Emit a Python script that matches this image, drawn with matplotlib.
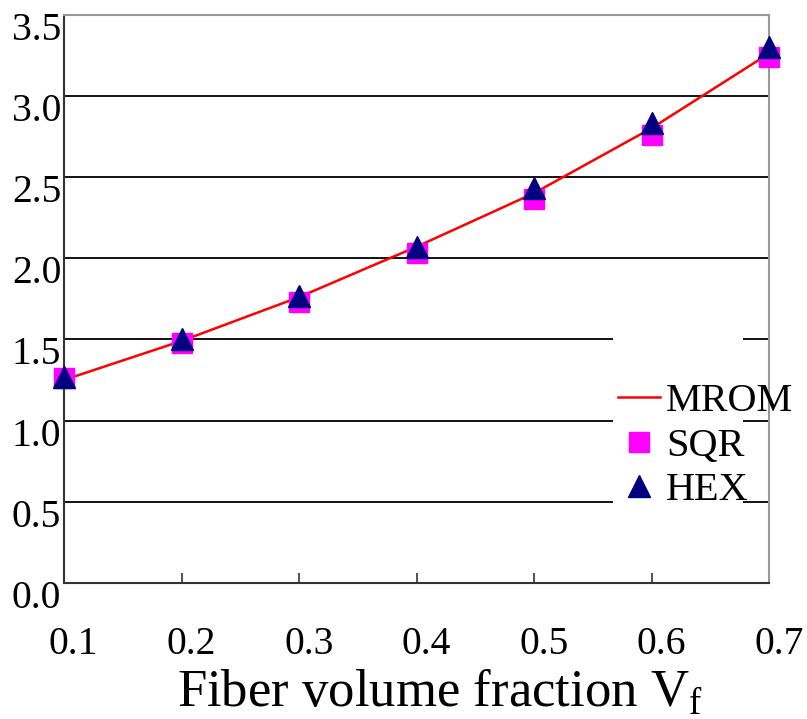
import numpy as np
import matplotlib
matplotlib.use("Agg")
import matplotlib.pyplot as plt
import matplotlib.transforms as mtransforms
from matplotlib.patches import Rectangle

plt.rcParams['font.family'] = ['Liberation Serif', 'DejaVu Serif']
plt.rcParams['mathtext.fontset'] = 'custom'
plt.rcParams['mathtext.rm'] = 'Liberation Serif'

# data
vf = [0.1, 0.2, 0.3, 0.4, 0.5, 0.6, 0.7]
mrom = [1.25, 1.49, 1.76, 2.07, 2.40, 2.80, 3.26]
sqr = [1.26, 1.48, 1.73, 2.03, 2.365, 2.76, 3.24]
hex_ = [1.27, 1.50, 1.77, 2.07, 2.43, 2.83, 3.30]

xticks = [0.1, 0.2, 0.3, 0.4, 0.5, 0.6, 0.7]
yticks = [0.0, 0.5, 1.0, 1.5, 2.0, 2.5, 3.0, 3.5]

W, H = 807, 719
fig = plt.figure(figsize=(W / 100, H / 100), dpi=100)
ax = fig.add_axes([64 / W, 1 - 583 / H, 705 / W, 568.5 / H])

ax.set_xlim(0.1, 0.7)
ax.set_ylim(0.0, 3.5)

for y in yticks[1:-1]:
    ax.axhline(y, color='black', lw=1.3, zorder=1)

# white patch behind the legend hides the gridlines
ax.add_patch(Rectangle((0.779, 0.12), 0.184, 0.335, transform=ax.transAxes,
                       facecolor='white', edgecolor='none', zorder=1.5))

ax.plot(vf, mrom, color='red', lw=1.8, zorder=3, clip_on=False, label='MROM')
ax.plot(vf, sqr, ls='none', marker='s', ms=14.5, color='#ff00ff',
        mec='#ff00ff', zorder=4, clip_on=False, label='SQR')
ax.plot(vf, hex_, ls='none', marker='^', ms=15.5, color='#000080',
        mec='#000080', zorder=5, clip_on=False, label='HEX')

ax.set_xticks(xticks)
ax.set_xticklabels(['%.1f' % t for t in xticks])
ax.set_yticks(yticks)
ax.set_yticklabels(['%.1f' % t for t in yticks])
ax.tick_params(axis='x', direction='in', length=7, width=1.2, color='#333333',
               labelsize=28.5, pad=31)
ax.tick_params(axis='y', length=0, labelsize=28.5, pad=2)

for lab in ax.get_xticklabels():
    lab.set_transform(lab.get_transform() + mtransforms.ScaledTranslation(
        7 / 72, 0, fig.dpi_scale_trans))
for lab in ax.get_yticklabels():
    lab.set_transform(lab.get_transform() + mtransforms.ScaledTranslation(
        0, -8 / 72, fig.dpi_scale_trans))

for side in ['left', 'bottom']:
    ax.spines[side].set_color('#333333')
    ax.spines[side].set_linewidth(1.5)
for side in ['top', 'right']:
    ax.spines[side].set_color('#999999')
    ax.spines[side].set_linewidth(1.5)

leg = ax.legend(loc='upper left', bbox_to_anchor=(618 / W, 1 - 383 / H),
                bbox_transform=fig.transFigure, frameon=False, fontsize=29,
                handlelength=1.05, handletextpad=0.15, labelspacing=0.18,
                borderpad=0, borderaxespad=0)
leg.set_zorder(6)

fig.text(440 / W, 1 - 692 / H, r'Fiber volume fraction V$_{\mathrm{f}}$',
         fontsize=38, ha='center', va='center')

fig.savefig('out.png', dpi=100)
